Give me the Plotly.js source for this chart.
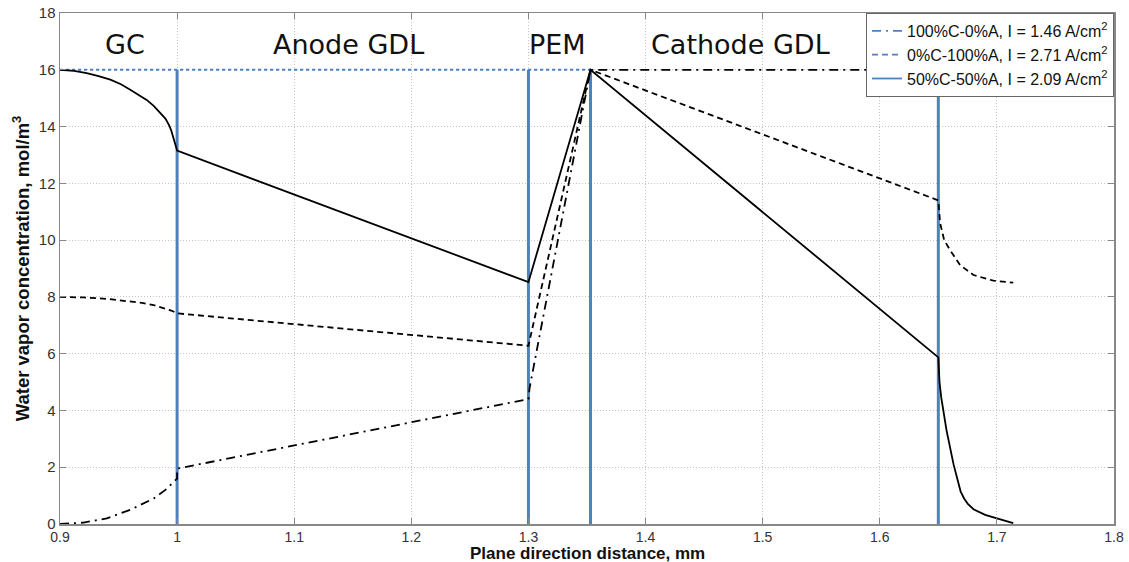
<!DOCTYPE html>
<html><head><meta charset="utf-8">
<script src="https://cdn.plot.ly/plotly-3.0.1.min.js"></script>
<style>html,body{margin:0;padding:0;background:#fff}#c{width:1129px;height:562px}</style>
</head><body><div id="c"></div>
<script>
// Series: 100%C-0%A (dash-dot)
const xA = [0.9,0.92,0.94,0.96,0.97,0.98,0.99,0.995,0.998,1.0,1.0,1.3,1.301,1.353,1.715];
const yA = [0.0,0.05,0.2,0.5,0.7,0.9,1.2,1.4,1.55,1.6,1.95,4.4,4.8,16.0,16.0];
// Series: 0%C-100%A (dashed)
const xB = [0.9,0.92,0.94,0.96,0.97,0.98,0.99,0.995,1.0,1.3,1.353,1.65,1.6515,1.655,1.66,1.6686,1.68,1.697,1.714];
const yB = [8.0,7.98,7.93,7.85,7.79,7.71,7.6,7.52,7.42,6.28,16.0,11.4,10.6,10.0,9.65,9.12,8.77,8.57,8.5];
// Series: 50%C-50%A (solid)
const xC = [0.9,0.912,0.9228,0.933,0.943,0.952,0.960,0.967,0.974,0.980,0.986,0.990,0.993,0.995,0.997,0.9985,0.9995,1.0,1.3,1.353,1.65,1.651,1.6525,1.657,1.663,1.669,1.672,1.675,1.68,1.69,1.70,1.714];
const yC = [16.0,15.96,15.88,15.78,15.65,15.49,15.3,15.13,14.94,14.73,14.47,14.28,14.06,13.86,13.58,13.38,13.2,13.15,8.52,16.0,5.87,5.0,4.45,3.3,2.1,1.15,0.9,0.72,0.52,0.32,0.2,0.03];
// Layer boundaries (blue vertical lines)
const boundaries = [1.0,1.3,1.353,1.65];
const boundaryTop = 16;
// Inlet level (blue dotted)
const inletX = [0.9,1.353];
const inletY = [16,16];
const names = ["100%C-0%A, I = 1.46 A/cm<sup>2</sup>","0%C-100%A, I = 2.71 A/cm<sup>2</sup>","50%C-50%A, I = 2.09 A/cm<sup>2</sup>"];
const regionLabels = ["GC","Anode GDL","PEM","Cathode GDL"];
const regionX = [0.9555,1.146,1.3244,1.4807];
const regionY = 16.9;
const xTicks = [0.9,1,1.1,1.2,1.3,1.4,1.5,1.6,1.7,1.8];
const xTickText = ["0.9","1","1.1","1.2","1.3","1.4","1.5","1.6","1.7","1.8"];
const yTicks = [0,2,4,6,8,10,12,14,16,18];
const xTitle = '<b>Plane direction distance, mm</b>';
const yTitle = '<b>Water vapor concentration, mol/m<sup>3</sup></b>';

const blue = '#4f81bd';
const dashDot = '9px,5px,2px,5px';
const dashed = '6px,4px';
const traces = [];
boundaries.forEach(b => traces.push({x:[b,b], y:[0,boundaryTop], mode:'lines', line:{color:blue,width:3}, showlegend:false, hoverinfo:'skip'}));
traces.push({x:inletX, y:inletY, mode:'lines', line:{color:blue,width:2,dash:'dot'}, showlegend:false});
traces.push({x:xA, y:yA, mode:'lines', line:{color:'#000',width:1.8,dash:dashDot}, showlegend:false});
traces.push({x:xB, y:yB, mode:'lines', line:{color:'#000',width:1.8,dash:dashed}, showlegend:false});
traces.push({x:xC, y:yC, mode:'lines', line:{color:'#000',width:1.8}, showlegend:false});
// legend entries (blue samples as in reference)
[dashDot, dashed, 'solid'].forEach((d,i) => traces.push({x:[null], y:[null], mode:'lines', name:names[i], line:{color:blue,width:1.8,dash:d}}));

const annotations = regionLabels.map((t,i)=>({x:regionX[i], y:regionY, xref:'x', yref:'y', text:t, showarrow:false,
    font:{size:27, family:'DejaVu Sans, sans-serif', color:'#111'}}));
annotations.push({x:0.5, xref:'paper', y:-0.057, yref:'paper', yanchor:'middle', text:xTitle, showarrow:false,
    font:{size:17, color:'#111', family:'Arial, Liberation Sans, sans-serif'}});

const layout = {
  width:1129, height:562,
  margin:{l:60, r:15, t:13, b:38},
  paper_bgcolor:'#fff', plot_bgcolor:'#fff',
  font:{family:'Arial, Liberation Sans, sans-serif', color:'#222'},
  showlegend:true,
  legend:{x:1, xanchor:'right', y:1, yanchor:'top', bgcolor:'#fff', bordercolor:'#666', borderwidth:1,
    font:{size:16, family:'Arial, Liberation Sans, sans-serif', color:'#111'}, tracegroupgap:0, itemwidth:30},
  xaxis:{range:[0.9,1.8], tickvals:xTicks, ticktext:xTickText, showgrid:true, gridcolor:'#c4c4c4', griddash:'1px,2px', gridwidth:1,
    zeroline:false, showline:true, linecolor:'#888', linewidth:1.5, mirror:'ticks', ticks:'inside', ticklen:6, tickcolor:'#888',
    tickfont:{size:14, color:'#333'}},
  yaxis:{range:[0,18], tickvals:yTicks, showgrid:true, gridcolor:'#c4c4c4', griddash:'1px,2px', gridwidth:1,
    zeroline:false, showline:true, linecolor:'#888', linewidth:1.5, mirror:'ticks', ticks:'inside', ticklen:6, tickcolor:'#888',
    tickfont:{size:15, color:'#333'},
    title:{text:yTitle, font:{size:18.5, color:'#111'}, standoff:4}},
  annotations: annotations
};
Plotly.newPlot('c', traces, layout, {displayModeBar:false, staticPlot:true});
</script></body></html>
